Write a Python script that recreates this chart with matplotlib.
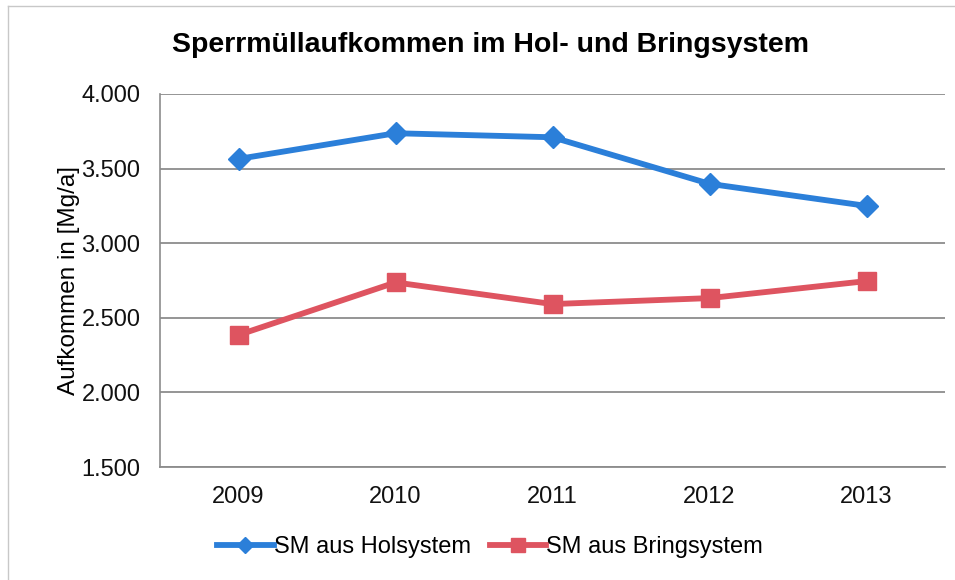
import matplotlib.pyplot as plt
import numpy as np

jahre = ['2009', '2010', '2011', '2012', '2013']
holsystem = [3565, 3737, 3710, 3398, 3250]
bringsystem = [2385, 2737, 2592, 2632, 2746]
y_ticks = [1500, 2000, 2500, 3000, 3500, 4000]

plt.rcParams['font.family'] = ['Liberation Sans', 'DejaVu Sans']

fig = plt.figure(figsize=(9.55, 5.8), dpi=100)
ax = fig.add_axes([160 / 955, 113 / 580, 785 / 955, 373 / 580])

x = np.arange(len(jahre))
ax.plot(x, holsystem, color='#2b7fd9', lw=4.2, marker='D', ms=11,
        label='SM aus Holsystem', zorder=3)
ax.plot(x, bringsystem, color='#de5460', lw=4.2, marker='s', ms=13,
        label='SM aus Bringsystem', zorder=3)

ax.set_xlim(-0.5, len(jahre) - 0.5)
ax.set_ylim(1500, 4000)
ax.set_yticks(y_ticks)
ax.set_yticklabels([f'{v:,}'.replace(',', '.') for v in y_ticks])
ax.set_xticks(x)
ax.set_xticklabels(jahre)
ax.tick_params(axis='both', length=0, labelsize=17, colors='#111111')
ax.tick_params(axis='x', pad=14)
ax.tick_params(axis='y', pad=14)
ax.grid(axis='y', color='#8c8c8c', lw=1.3)
ax.set_axisbelow(True)
for s in ['top', 'right']:
    ax.spines[s].set_visible(False)
ax.spines['left'].set_color('#8c8c8c')
ax.spines['bottom'].set_color('#8c8c8c')
ax.spines['left'].set_linewidth(1.2)
ax.spines['bottom'].set_linewidth(1.3)

ax.set_ylabel('Aufkommen in [Mg/a]', fontsize=17.5, labelpad=1)
fig.text(490 / 955, 1 - 45 / 580, 'Sperrmüllaufkommen im Hol- und Bringsystem',
         ha='center', va='center', fontsize=20.5, fontweight='bold')

fig.legend(loc='center', bbox_to_anchor=(490 / 955, 1 - 547 / 580), ncol=2,
           frameon=False, fontsize=17, handlelength=2.4, handletextpad=0.0,
           columnspacing=0.8, markerscale=0.75)

# faint frame of the scanned chart
fig.add_artist(plt.Line2D([8 / 955, 8 / 955], [0, 1 - 6 / 580], color='#c8c8c8', lw=1))
fig.add_artist(plt.Line2D([8 / 955, 1], [1 - 6 / 580, 1 - 6 / 580], color='#c8c8c8', lw=1))

fig.savefig('out.png', dpi=100)
